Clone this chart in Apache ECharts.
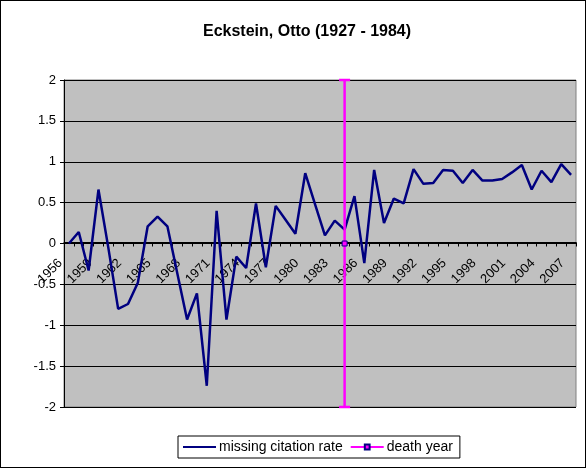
<!DOCTYPE html>
<html lang="en">
<head>
    <meta charset="utf-8">
    <title>Eckstein, Otto</title>
    <style type="text/css">
        html, body {
            margin: 0;
            padding: 0;
            background: #ffffff;
        }

        #main {
            width: 586px;
            height: 468px;
            box-sizing: border-box;
            border: 1px solid #000000;
        }
    </style>
</head>
<body>
<div id="main"></div>
<script src="https://cdn.jsdelivr.net/npm/echarts@6/dist/echarts.min.js" type="text/javascript"></script>
<script type="text/javascript">
    // years on the category axis
    const years = [];
    for (let y = 1956; y <= 2007; y++) {
        years.push(String(y));
    }

    // missing citation rate, one value per year
    const missingRate = [
        0.00, 0.14, -0.33, 0.66, -0.05, -0.80, -0.74, -0.48, 0.21, 0.33,
        0.21, -0.36, -0.93, -0.61, -1.74, 0.40, -0.93, -0.16, -0.30, 0.49,
        -0.29, 0.46, 0.29, 0.12, 0.86, 0.48, 0.10, 0.28, 0.17, 0.58,
        -0.24, 0.90, 0.25, 0.55, 0.49, 0.91, 0.73, 0.74, 0.90, 0.89,
        0.74, 0.90, 0.77, 0.77, 0.79, 0.87, 0.96, 0.66, 0.89, 0.75,
        0.97, 0.84
    ];

    // death year with its error bar range
    const deathYear = 1984;
    const deathBar = [-2, 2];

    const FONT = "Arial, 'Liberation Sans', sans-serif";

    // plot box (px) - the category axis sits on the zero line, like excel
    const GRID_TOP = 79, GRID_BOTTOM = 60, CHART_H = 468;
    const Y_MIN = -2, Y_MAX = 2;
    const plotH = CHART_H - GRID_TOP - GRID_BOTTOM;
    const zeroOffset = -plotH * (0 - Y_MIN) / (Y_MAX - Y_MIN);

    let chart = echarts.init(document.getElementById('main'), null, {renderer: 'canvas'});

    let option = {
        animation: false,
        backgroundColor: '#ffffff',
        title: {
            text: 'Eckstein, Otto (1927 - 1984)',
            left: 197,
            top: 18,
            textStyle: {
                fontFamily: FONT,
                fontSize: 16,
                fontWeight: 'bold',
                color: '#000000'
            }
        },
        legend: {
            data: [
                {name: 'missing citation rate', itemStyle: {opacity: 0}},
                {name: 'death year'}
            ],
            left: 177,
            top: 435,
            padding: [4, 7, 4, 4],
            itemWidth: 33,
            itemHeight: 6,
            itemGap: 7,
            borderColor: '#000000',
            borderWidth: 1,
            borderRadius: 0,
            textStyle: {
                fontFamily: FONT,
                fontSize: 14,
                color: '#000000',
                padding: [0, 0, 0, -2]
            }
        },
        grid: {
            left: 63,
            right: 9,
            top: GRID_TOP,
            bottom: GRID_BOTTOM,
            show: true,
            backgroundColor: '#C0C0C0',
            borderColor: '#808080',
            borderWidth: 1
        },
        xAxis: [
            {
                type: 'category',
                data: years,
                boundaryGap: true,
                position: 'bottom',
                offset: zeroOffset,
                axisLine: {
                    onZero: false,
                    lineStyle: {color: '#000000', width: 1}
                },
                axisTick: {
                    show: true,
                    interval: 0,
                    length: 4,
                    lineStyle: {color: '#000000'}
                },
                axisLabel: {
                    interval: 2,
                    rotate: 45,
                    margin: 10,
                    padding: [0, 12, 0, 0],
                    fontFamily: FONT,
                    fontSize: 13,
                    color: '#000000'
                },
                splitLine: {show: false}
            },
            {
                // hidden year scale used by the death year series
                type: 'value',
                show: false,
                min: 1955.5,
                max: 2007.5,
                axisLine: {onZero: false}
            }
        ],
        yAxis: {
            type: 'value',
            min: Y_MIN,
            max: Y_MAX,
            interval: 0.5,
            axisLine: {
                show: true,
                onZero: false,
                lineStyle: {color: '#000000', width: 1}
            },
            axisTick: {
                show: true,
                length: 4,
                lineStyle: {color: '#000000'}
            },
            axisLabel: {
                margin: 8,
                fontFamily: FONT,
                fontSize: 13,
                color: '#000000'
            },
            splitLine: {
                show: true,
                lineStyle: {color: '#000000', width: 1}
            }
        },
        series: [
            {
                name: 'missing citation rate',
                type: 'line',
                data: missingRate,
                showSymbol: false,
                symbol: 'none',
                lineStyle: {color: '#000080', width: 2.5},
                itemStyle: {color: '#000080'},
                z: 3
            },
            {
                name: 'death bar',
                type: 'custom',
                xAxisIndex: 1,
                data: [[deathYear, deathBar[0], deathBar[1]]],
                encode: {x: 0, y: [1, 2]},
                renderItem: function (params, api) {
                    let hi = api.coord([api.value(0), api.value(2)]);
                    let lo = api.coord([api.value(0), api.value(1)]);
                    let hw = 5.5;
                    let style = {stroke: '#FF00FF', lineWidth: 2.5};
                    return {
                        type: 'group',
                        children: [
                            {type: 'line', shape: {x1: hi[0], y1: hi[1], x2: lo[0], y2: lo[1]}, style: style},
                            {type: 'line', shape: {x1: hi[0] - hw, y1: hi[1], x2: hi[0] + hw, y2: hi[1]}, style: style},
                            {type: 'line', shape: {x1: lo[0] - hw, y1: lo[1], x2: lo[0] + hw, y2: lo[1]}, style: style}
                        ]
                    };
                },
                z: 4
            },
            {
                name: 'death year',
                type: 'line',
                xAxisIndex: 1,
                data: [[deathYear, 0]],
                symbol: 'rect',
                symbolSize: 5,
                lineStyle: {color: '#FF00FF', width: 2.5},
                itemStyle: {color: '#FF00FF', borderColor: '#000080', borderWidth: 1},
                z: 5
            }
        ]
    };

    chart.setOption(option);
</script>
</body>
</html>
